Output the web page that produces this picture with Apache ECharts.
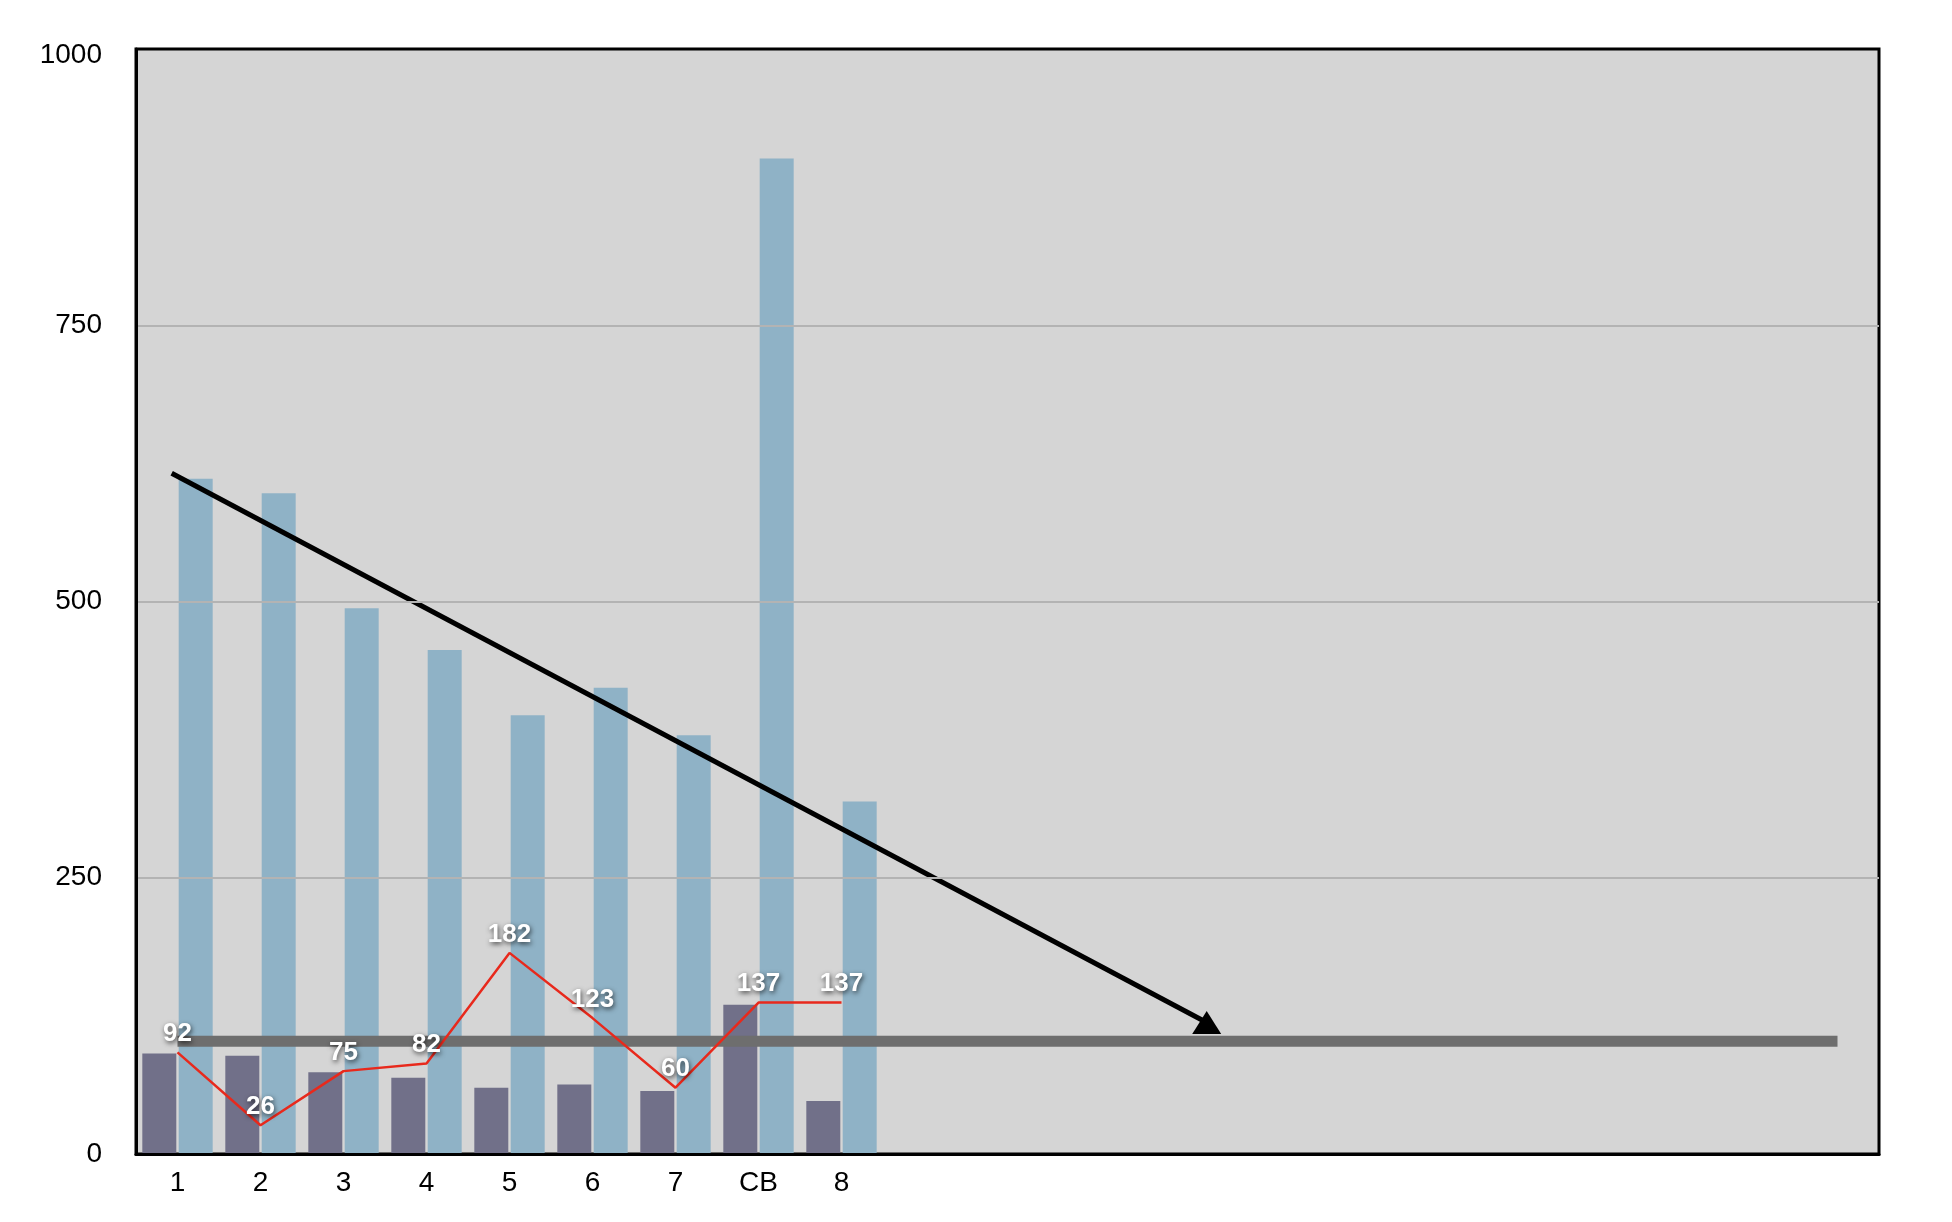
<!DOCTYPE html>
<html>
<head>
<meta charset="utf-8">
<script src="https://cdn.jsdelivr.net/npm/echarts@6/dist/echarts.min.js"></script>
<style>html,body{margin:0;padding:0;background:#fff}#c{width:1952px;height:1222px}</style>
</head>
<body>
<div id="c"></div>
<script>
// categories (21 slots on the axis, only the first 9 carry data)
const categories = ['1','2','3','4','5','6','7','CB','8','','','','','','','','','','','',''];
const darkValues = [91, 89, 74, 69, 60, 63, 57, 135, 48];
const blueValues = [611, 598, 494, 456, 397, 422, 379, 901, 319];
const redValues = [92, 26, 75, 82, 182, 123, 60, 137, 137];
const yTicks = { min: 0, max: 1000, interval: 250 };
// annotation positions in data space (x on a 0..21 slot scale)
const levelLine = [[0.5, 102], [20.5, 102]];
const arrowStart = [0.43, 616];
const arrowEnd = [12.9, 119];

const chart = echarts.init(document.getElementById('c'));
const labelFont = 'Liberation Sans, Arial, sans-serif';
chart.setOption({
  animation: false,
  grid: {
    left: 136, right: 73, top: 49, bottom: 68,
    show: true, backgroundColor: '#d5d5d5', borderColor: '#000', borderWidth: 3
  },
  xAxis: [{
    type: 'category', data: categories, z: 10,
    axisLine: { show: true, lineStyle: { color: '#000', width: 3 } },
    axisTick: { show: false },
    axisLabel: { color: '#000', fontSize: 28, fontFamily: labelFont, margin: 15, interval: 0 }
  }, {
    type: 'value', min: 0, max: 21, show: false
  }],
  yAxis: {
    type: 'value', min: yTicks.min, max: yTicks.max, interval: yTicks.interval, z: 10,
    axisLine: { show: true, lineStyle: { color: '#000', width: 3 } },
    axisTick: { show: false },
    splitLine: { showMinLine: false, showMaxLine: false, lineStyle: { color: '#b3b3b3', width: 2 } },
    axisLabel: {
      color: '#000', fontSize: 28, fontFamily: labelFont, margin: 34,
      formatter: v => v === yTicks.max ? '{top|' + v + '}' : String(v),
      rich: { top: { fontSize: 28, fontFamily: labelFont, color: '#000', padding: [12, 0, 0, 0] } }
    }
  },
  series: [{
    type: 'bar', data: darkValues, barWidth: 34, barGap: '7%',
    itemStyle: { color: '#717089' }, z: 2
  }, {
    type: 'bar', data: blueValues, barWidth: 34,
    itemStyle: { color: '#8fb2c6' }, z: 2
  }, {
    type: 'line', xAxisIndex: 1, data: levelLine, symbol: 'none', z: 3,
    lineStyle: { color: '#6e6e6e', width: 11, cap: 'butt' }, silent: true
  }, {
    type: 'line', data: redValues, symbol: 'circle', symbolSize: 1, showSymbol: true, z: 4,
    itemStyle: { color: 'rgba(0,0,0,0)' },
    lineStyle: { color: '#e8291c', width: 2.5 },
    label: {
      show: true, position: 'top', distance: 5, color: '#fff', fontWeight: 'bold',
      fontSize: 26, fontFamily: labelFont,
      textShadowColor: 'rgba(0,0,0,0.7)', textShadowBlur: 5, textShadowOffsetX: 1, textShadowOffsetY: 2
    }
  }, {
    type: 'line', xAxisIndex: 1, data: [], z: 5,
    markLine: {
      silent: true, symbol: ['none', 'triangle'], symbolSize: [29, 23], symbolRotate: 0,
      label: { show: false },
      lineStyle: { color: '#000', width: 5, type: 'solid' },
      data: [[{ coord: arrowStart }, { coord: arrowEnd }]]
    }
  }]
});
</script>
</body>
</html>
